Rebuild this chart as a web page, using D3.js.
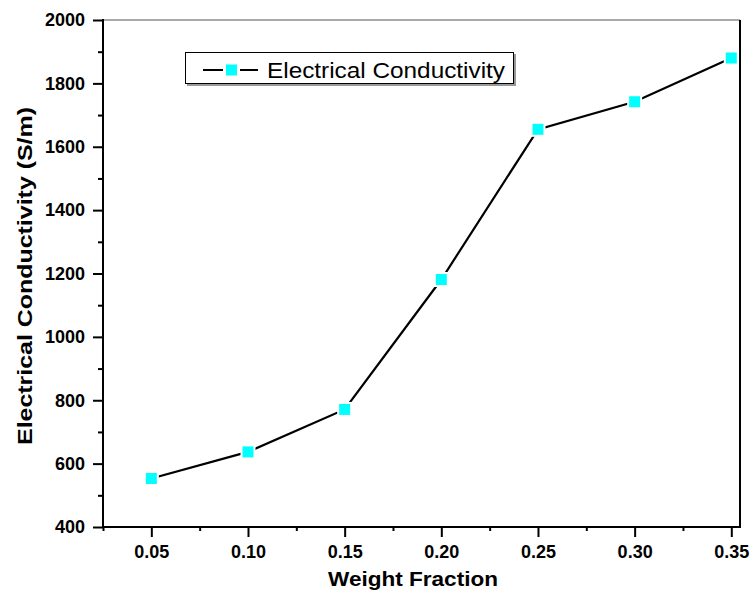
<!DOCTYPE html>
<html>
<head>
<meta charset="utf-8">
<script src="https://cdn.jsdelivr.net/npm/d3@7"></script>
<style>
  body { margin: 0; background: #fff; }
  svg { display: block; }
  text { font-family: "Liberation Sans", Arial, sans-serif; }
</style>
</head>
<body>
<svg id="chart" width="751" height="593"></svg>
<script>
// Conductivity measured at each weight fraction
const weightFraction = [0.05, 0.10, 0.15, 0.20, 0.25, 0.30, 0.35];
const conductivity = [553, 637, 771, 1181, 1655, 1742, 1880];
const xTickValues = [0.05, 0.10, 0.15, 0.20, 0.25, 0.30, 0.35];
const yTickValues = [400, 600, 800, 1000, 1200, 1400, 1600, 1800, 2000];
const seriesName = "Electrical Conductivity";
const xTitle = "Weight Fraction";
const yTitle = "Electrical Conductivity (S/m)";

const svg = d3.select("#chart");
const m = { left: 103, right: 740, top: 20, bottom: 527 };

const x = d3.scaleLinear().domain([0.025, 0.3545]).range([m.left, m.right]);
const y = d3.scaleLinear().domain([400, 2000]).range([m.bottom, m.top]);

// frame: thin top edge, heavy right edge
svg.append("line").attr("x1", m.left).attr("x2", m.right)
  .attr("y1", m.top).attr("y2", m.top)
  .attr("stroke", "#555").attr("stroke-width", 1);
svg.append("line").attr("x1", m.right).attr("x2", m.right)
  .attr("y1", m.top).attr("y2", m.bottom)
  .attr("stroke", "#000").attr("stroke-width", 2);

// minor ticks
const xMinor = d3.range(0.025, 0.36, 0.05).map(v => +v.toFixed(3));
const yMinor = d3.range(500, 2000, 200);

const xAxisG = svg.append("g").attr("transform", `translate(0,${m.bottom})`);
xAxisG.call(d3.axisBottom(x).tickValues(xMinor).tickSize(4).tickFormat(""))
  .call(g => g.select(".domain").remove());
xAxisG.append("g").call(d3.axisBottom(x).tickValues(xTickValues).tickSize(10)
  .tickPadding(8).tickFormat(d3.format(".2f")))
  .call(g => g.select(".domain").remove());

const yAxisG = svg.append("g").attr("transform", `translate(${m.left},0)`);
yAxisG.call(d3.axisLeft(y).tickValues(yMinor).tickSize(5).tickFormat(""))
  .call(g => g.select(".domain").remove());
yAxisG.append("g").call(d3.axisLeft(y).tickValues(yTickValues).tickSize(10)
  .tickPadding(8).tickFormat(d3.format("d")))
  .call(g => g.select(".domain").remove());

svg.selectAll(".tick line").attr("stroke", "#000").attr("stroke-width", 2);
svg.selectAll(".tick text").attr("fill", "#000")
  .style("font-size", "18px").style("font-weight", "bold");

// axis lines
svg.append("line").attr("x1", m.left - 1).attr("x2", m.right + 1)
  .attr("y1", m.bottom).attr("y2", m.bottom)
  .attr("stroke", "#000").attr("stroke-width", 2);
svg.append("line").attr("x1", m.left).attr("x2", m.left)
  .attr("y1", m.top - 1).attr("y2", m.bottom + 1)
  .attr("stroke", "#000").attr("stroke-width", 2);

// axis titles
svg.append("text")
  .attr("x", 328).attr("y", 586)
  .attr("textLength", 170).attr("lengthAdjust", "spacingAndGlyphs")
  .style("font-size", "21px").style("font-weight", "bold")
  .text(xTitle);
svg.append("text")
  .attr("transform", `translate(32,445) rotate(-90)`)
  .attr("textLength", 338).attr("lengthAdjust", "spacingAndGlyphs")
  .style("font-size", "21px").style("font-weight", "bold")
  .text(yTitle);

// data line and markers (markers get a white halo so the line stops short)
const pts = weightFraction.map((w, i) => [w, conductivity[i]]);
svg.append("path")
  .datum(pts)
  .attr("fill", "none").attr("stroke", "#000").attr("stroke-width", 2.2)
  .attr("d", d3.line().x(d => x(d[0])).y(d => y(d[1])));

const ms = 11;
svg.selectAll("rect.pt").data(pts).enter().append("rect")
  .attr("class", "pt")
  .attr("x", d => x(d[0]) - ms / 2).attr("y", d => y(d[1]) - ms / 2)
  .attr("width", ms).attr("height", ms)
  .attr("fill", "#00ffff").attr("stroke", "#fff").attr("stroke-width", 4)
  .attr("paint-order", "stroke");

// legend
const lg = svg.append("g");
lg.append("rect").attr("x", 187).attr("y", 54).attr("width", 329).attr("height", 32)
  .attr("fill", "#999");
lg.append("rect").attr("x", 185.5).attr("y", 52.5).attr("width", 328).attr("height", 31)
  .attr("fill", "#fff").attr("stroke", "#000").attr("stroke-width", 1);
lg.append("line").attr("x1", 203).attr("x2", 223).attr("y1", 70).attr("y2", 70)
  .attr("stroke", "#000").attr("stroke-width", 2);
lg.append("line").attr("x1", 240).attr("x2", 258).attr("y1", 70).attr("y2", 70)
  .attr("stroke", "#000").attr("stroke-width", 2);
lg.append("rect").attr("x", 226).attr("y", 64.5).attr("width", 11).attr("height", 11)
  .attr("fill", "#00ffff");
lg.append("text").attr("x", 267).attr("y", 78)
  .style("font-size", "22px")
  .attr("textLength", 238).attr("lengthAdjust", "spacingAndGlyphs")
  .text(seriesName);
</script>
</body>
</html>
